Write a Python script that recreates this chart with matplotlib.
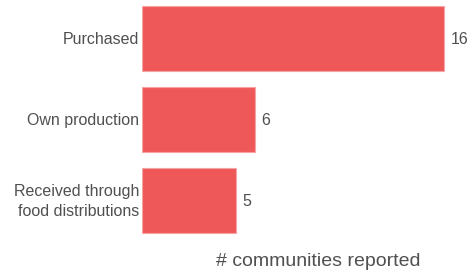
import matplotlib
matplotlib.use("Agg")
import matplotlib.pyplot as plt

categories = ["Purchased", "Own production", "Received through\nfood distributions"]
values = [16, 6, 5]
xlabel = "# communities reported"

W, H, DPI = 468, 273, 100
fig = plt.figure(figsize=(W / DPI, H / DPI), dpi=DPI)
plt.rcParams['font.family'] = ['Liberation Sans', 'DejaVu Sans']

px_per_unit = 18.9
x0 = 142
xmax = 17
ax = fig.add_axes([x0 / W, 0, xmax * px_per_unit / W, 1])
ypos = list(range(len(categories)))
ax.barh(ypos, values, height=0.8, color='#EE5859', edgecolor='#F6A3A3', linewidth=0.8)
ax.set_xlim(0, xmax)
top = (0 - 38.2) / 81.2
bot = (H - 38.2) / 81.2
ax.set_ylim(bot, top)
ax.axis('off')

tc = '#505050'
dy = 1.2 / 81.2
for y, cat, v in zip(ypos, categories, values):
    ax.text(-3 / px_per_unit, y + dy, cat, ha='right', va='center', fontsize=11.5,
            color=tc, linespacing=1.4)
    ax.text(v + 6 / px_per_unit, y + dy, str(v), ha='left', va='center', fontsize=11.5, color=tc)

fig.text(318 / W, 1 - 261 / H, xlabel, ha='center', va='center', fontsize=14, color=tc)

fig.savefig("out.png", dpi=DPI)
